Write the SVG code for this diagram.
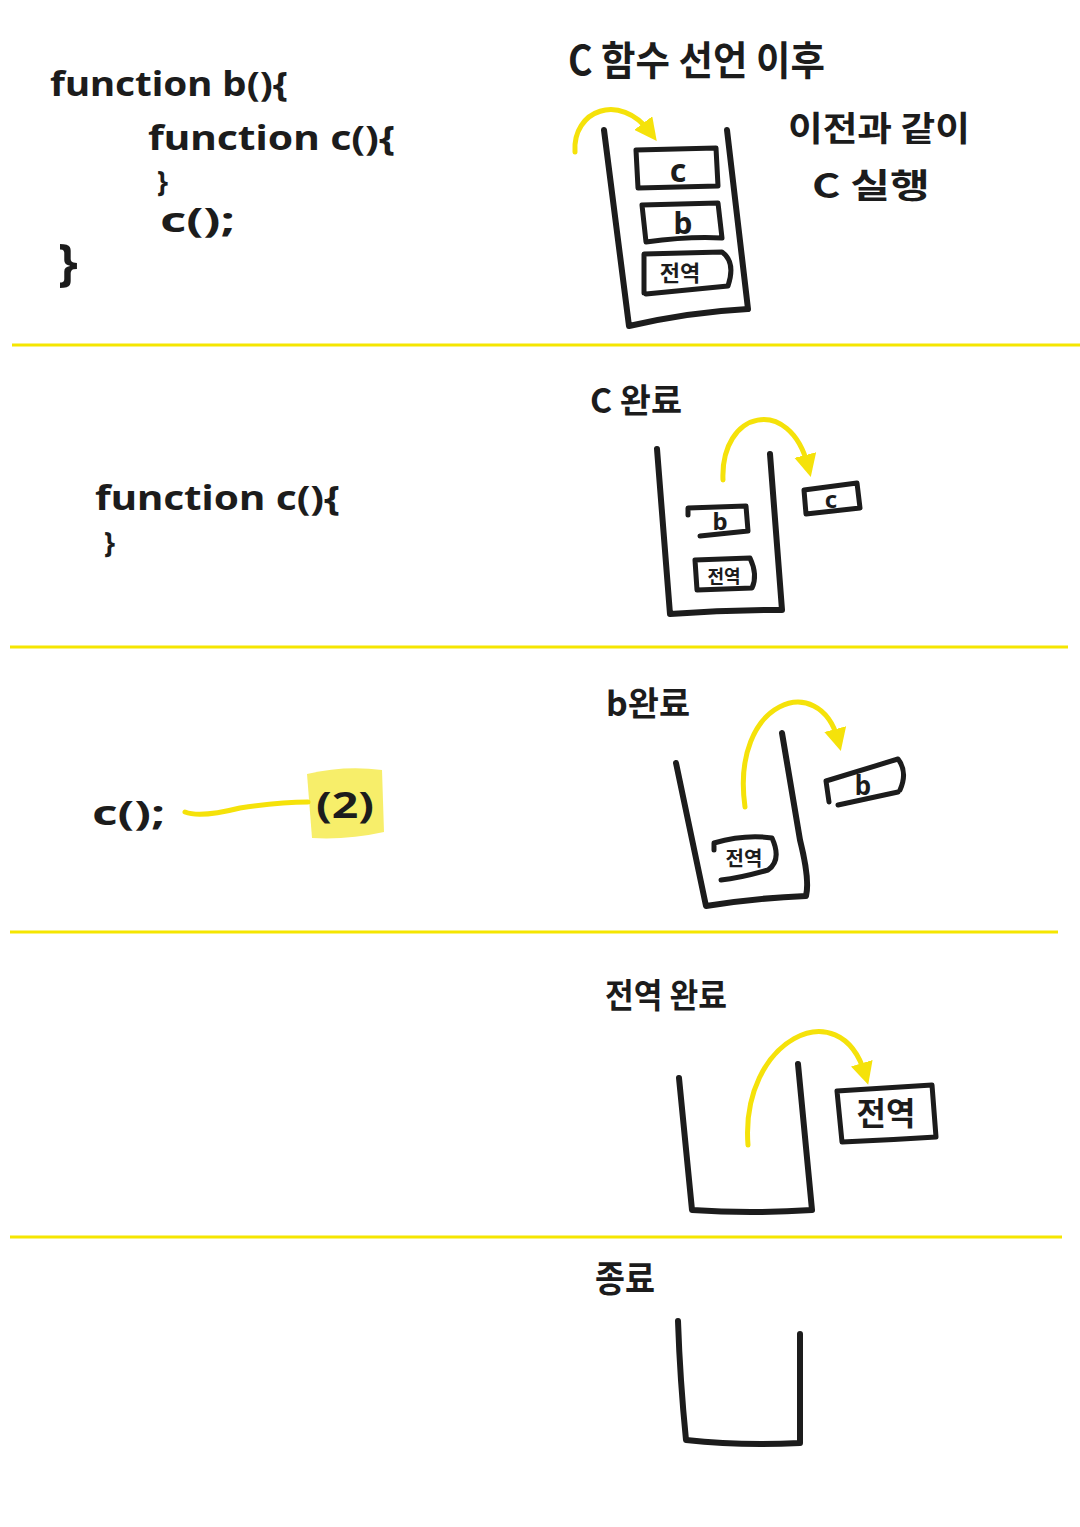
<svg xmlns="http://www.w3.org/2000/svg" width="1080" height="1527" viewBox="0 0 1080 1527">
<defs>
<marker id="ah" viewBox="0 0 10 10" refX="5" refY="5" markerWidth="4.5" markerHeight="4.5" orient="auto" markerUnits="strokeWidth">
<path d="M0,0 L10,5 L0,10 Z" fill="#f5e20a"/>
</marker>
<style>
.ink{fill:none;stroke:#1c1c1c;stroke-width:6;stroke-linecap:round;stroke-linejoin:round}
.box{fill:none;stroke:#1c1c1c;stroke-width:5;stroke-linecap:round;stroke-linejoin:round}
.yl{fill:none;stroke:#f5e20a;stroke-width:5;stroke-linecap:round}
.div{fill:none;stroke:#f5e600;stroke-width:3}
.t{font-family:"Noto Sans","Noto Sans CJK KR",sans-serif;font-weight:700;fill:#1c1c1c}
.k{font-family:"Noto Sans CJK KR","Noto Sans",sans-serif;font-weight:700;fill:#1c1c1c}
.c{text-anchor:middle}
</style>
</defs>
<rect width="1080" height="1527" fill="#ffffff"/>

<g id="dividers">
<line class="div" x1="12" y1="345" x2="1080" y2="345"/>
<line class="div" x1="10" y1="647" x2="1068" y2="647"/>
<line class="div" x1="10" y1="932" x2="1058" y2="932"/>
<line class="div" x1="10" y1="1237" x2="1062" y2="1237"/>
</g>

<g id="panel1-code">
<text class="t" x="50" y="96" font-size="34" textLength="238" lengthAdjust="spacingAndGlyphs">function b(){</text>
<text class="t" x="148" y="150" font-size="34" textLength="247" lengthAdjust="spacingAndGlyphs">function c(){</text>
<text class="t" x="157" y="192" font-size="28">}</text>
<text class="t" x="160" y="232" font-size="34" textLength="75" lengthAdjust="spacingAndGlyphs">c();</text>
<text class="t" x="58" y="280" font-size="50">}</text>
</g>

<g id="panel1-title">
<text class="k" x="568" y="75" font-size="40" textLength="257" lengthAdjust="spacingAndGlyphs">C 함수 선언 이후</text>
<text class="k" x="788" y="141" font-size="34" textLength="182" lengthAdjust="spacingAndGlyphs">이전과 같이</text>
<text class="k" x="812" y="198" font-size="34" textLength="118" lengthAdjust="spacingAndGlyphs">C 실행</text>
</g>

<g id="stack1">
<path class="ink" d="M604,130 L629,326 Q690,312 748,309 L727,130"/>
</g>
<g id="stack1-c">
<path class="box" d="M636,150 L716,148 L718,186 L638,188 Z"/>
<text class="t c" x="678" y="182" font-size="32">c</text>
</g>
<g id="stack1-b">
<path class="box" d="M642,205 L718,203 L722,238 Q690,236 646,242 Z"/>
<text class="t c" x="683" y="234" font-size="30">b</text>
</g>
<g id="stack1-global">
<path class="box" d="M644,293 L644,254 L722,252 Q736,262 728,286 L646,294"/>
<text class="k c" x="680" y="281" font-size="22">전역</text>
</g>

<g id="panel2-code">
<text class="k" x="590" y="413" font-size="34" textLength="92" lengthAdjust="spacingAndGlyphs">C 완료</text>
<text class="t" x="95" y="510" font-size="34" textLength="245" lengthAdjust="spacingAndGlyphs">function c(){</text>
<text class="t" x="104" y="553" font-size="28">}</text>
</g>
<g id="stack2">
<path class="ink" d="M657,449 L670,614 Q725,610 782,610 L770,454"/>
</g>
<g id="stack2-b">
<path class="box" d="M688,515 L688,508 L746,506 L748,531 L700,536"/>
<text class="t c" x="720" y="530" font-size="24">b</text>
</g>
<g id="stack2-global">
<path class="box" d="M695,560 L750,558 Q758,575 752,588 L697,590 Z"/>
<text class="k c" x="724" y="583" font-size="18">전역</text>
</g>
<g id="stack2-c">
<path class="box" d="M804,490 L857,483 L860,508 L806,514 Z"/>
<text class="t c" x="831" y="508" font-size="24">c</text>
</g>

<g id="panel3-code">
<text class="k" x="606" y="716" font-size="34" textLength="84" lengthAdjust="spacingAndGlyphs">b완료</text>
<text class="t" x="92" y="825" font-size="34" textLength="73" lengthAdjust="spacingAndGlyphs">c();</text>
</g>
<g id="note-2">
<path d="M307,774 Q345,765 382,770 L384,832 Q348,840 312,838 Z" fill="#f7ee6a"/>
<text class="t" x="316" y="818" font-size="36" textLength="58" lengthAdjust="spacingAndGlyphs">(2)</text>
</g>
<g id="stack3">
<path class="ink" d="M676,763 L706,906 Q755,898 806,896 Q810,880 800,840 L782,733"/>
</g>
<g id="stack3-global">
<path class="box" d="M714,850 L714,843 Q745,834 772,838 Q782,860 768,870 Q740,878 721,880"/>
<text class="k c" x="744" y="866" font-size="20">전역</text>
</g>
<g id="stack3-b">
<path class="box" d="M829,802 L826,781 L898,759 Q908,772 900,790 M838,805 L898,792"/>
<text class="t c" x="863" y="795" font-size="26">b</text>
</g>

<g id="panel4-code">
<text class="k" x="605" y="1008" font-size="34" textLength="122" lengthAdjust="spacingAndGlyphs">전역 완료</text>
</g>
<g id="stack4">
<path class="ink" d="M679,1078 L692,1210 Q750,1214 812,1210 L798,1064"/>
</g>
<g id="stack4-global">
<path class="box" d="M837,1091 L932,1085 L936,1137 Q890,1140 842,1142 Z"/>
<text class="k c" x="886" y="1125" font-size="32">전역</text>
</g>

<g id="panel5-code">
<text class="k" x="595" y="1292" font-size="36" textLength="60" lengthAdjust="spacingAndGlyphs">종료</text>
</g>
<g id="stack5">
<path class="ink" d="M678,1321 Q680,1380 686,1440 Q740,1446 800,1443 L800,1334"/>
</g>

<g id="connectors">
<path class="yl" d="M575,152 C572,110 620,92 650,132" marker-end="url(#ah)"/>
<path class="yl" d="M723,480 C720,410 790,395 808,466" marker-end="url(#ah)"/>
<path class="yl" d="M185,812 Q200,818 240,808 Q280,802 308,802"/>
<path class="yl" d="M745,807 C730,700 820,670 838,740" marker-end="url(#ah)"/>
<path class="yl" d="M748,1145 C740,1040 840,990 865,1074" marker-end="url(#ah)"/>
</g>
</svg>
